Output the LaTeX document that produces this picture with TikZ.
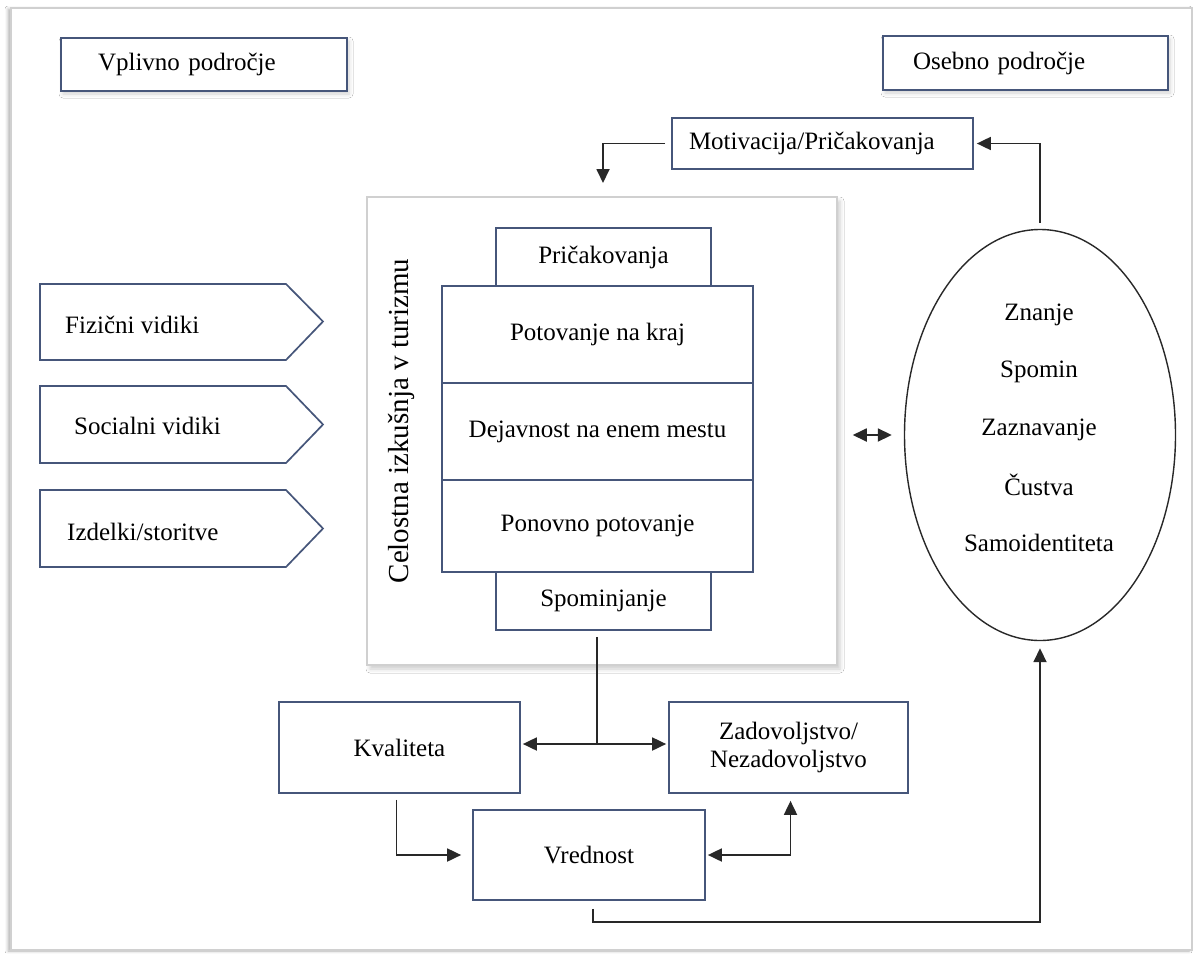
\documentclass[tikz,border=0pt]{standalone}
\usepackage{fontspec}
\setmainfont{Liberation Serif}
\usetikzlibrary{arrows.meta,shapes.geometric,shadows.blur,calc}
\definecolor{boxc}{RGB}{70,86,122}
\definecolor{linec}{RGB}{40,40,40}
\definecolor{framec}{RGB}{208,208,208}
\begin{document}
\begin{tikzpicture}[x=1pt,y=-1pt,
  font=\fontsize{25}{28}\selectfont,
  bx/.style={draw=boxc, line width=1.7pt, fill=white, inner sep=0pt, align=center},
  softshadow/.style={blur shadow={shadow xshift=2pt, shadow yshift=-3pt, shadow opacity=18, shadow blur radius=4pt}},
  conn/.style={draw=linec, line width=1.8pt},
  arr/.style={conn, -{Triangle[length=14pt,width=13pt]}},
  dblarr/.style={conn, {Triangle[length=14pt,width=13pt]}-{Triangle[length=14pt,width=13pt]}},
  txt/.style={inner sep=0pt},
  pent/.style={draw=boxc, line width=1.7pt, fill=white, line join=miter}
]
\useasboundingbox (0,0) rectangle (1196,953);
\fill[white] (0,0) rectangle (1196,953);

% outer frame
\node[draw=framec, line width=1.5pt, fill=white, minimum width=1181pt, minimum height=942pt, inner sep=0pt,
  blur shadow={shadow xshift=-3pt, shadow yshift=-1pt, shadow opacity=30, shadow blur radius=3pt}]
  (outer) at (601.5,479) {};

% domain boxes
\node[bx, softshadow, minimum height=53pt, text width=212pt, inner xsep=37pt, align=left] (vpl) at (204,64.5) {Vplivno področje};
\node[bx, softshadow, minimum height=54pt, text width=225pt, inner xsep=30pt, align=left] (oseb) at (1025.5,63) {Osebno področje};

% motivation box
\node[bx, minimum height=51pt, text width=267pt, inner xsep=17pt, align=left] (mot) at (822.5,143.5) {Motivacija/Pričakovanja};

% central frame
\node[draw=framec, line width=1.5pt, fill=white, minimum width=470pt, minimum height=468pt, inner sep=0pt,
  blur shadow={shadow xshift=3pt, shadow yshift=-4pt, shadow opacity=20, shadow blur radius=4pt}]
  (frame) at (602,431) {};
\node[txt, rotate=90, font=\fontsize{29}{34}\selectfont] (cel) at (401,421) {Celostna izkušnja v turizmu};

% stack
\node[bx, minimum width=215pt, minimum height=58pt] (pric) at (603.5,257) {Pričakovanja};
\node[bx, minimum width=311pt, minimum height=97pt] (pot) at (597.5,334.5) {Potovanje na kraj};
\node[bx, minimum width=311pt, minimum height=97pt] (dej) at (597.5,431.5) {\raisebox{4pt}{Dejavnost na enem mestu}};
\node[bx, minimum width=311pt, minimum height=92pt] (pon) at (597.5,526) {Ponovno potovanje};
\node[bx, minimum width=215pt, minimum height=58pt] (spom) at (603.5,601) {Spominjanje};

% pentagons
\draw[pent] (40,284) -- (286,284) -- (323,321.5) -- (286,360) -- (40,360) -- cycle;
\node[txt, anchor=west] (fiz) at (65,325) {Fizični vidiki};
\draw[pent] (40,386) -- (286,386) -- (323,424.5) -- (286,463) -- (40,463) -- cycle;
\node[txt, anchor=west] (soc) at (74,426) {Socialni vidiki};
\draw[pent] (40,490) -- (286,490) -- (323,528.5) -- (286,567) -- (40,567) -- cycle;
\node[txt, anchor=west] (izd) at (67,532) {Izdelki/storitve};

% ellipse
\node[ellipse, draw=linec, line width=1.4pt, fill=white, minimum width=271pt, minimum height=411pt, inner sep=0pt] (mind) at (1040,435) {};
\node[txt] (zn) at (1039,315) {Znanje};
\node[txt] (sp) at (1039,372) {Spomin};
\node[txt] (za) at (1039,430) {Zaznavanje};
\node[txt] (cu) at (1039,485) {Čustva};
\node[txt] (sa) at (1039,543) {Samoidentiteta};

% bottom boxes
\node[bx, minimum width=241pt, minimum height=91pt] (kval) at (399.5,747.5) {Kvaliteta};
\node[bx, minimum width=239pt, minimum height=91pt] (zad) at (788.5,747.5) {Zadovoljstvo/\\Nezadovoljstvo};
\node[bx, minimum width=232pt, minimum height=90pt] (vred) at (589,855) {Vrednost};

% coordinates
\coordinate (ftop) at (603,197);
\coordinate (jn) at (597,744);
\coordinate (bl) at (0,922);

% connectors
\draw[arr, shorten <=6pt, shorten >=14pt] (mot.west) -| (ftop);
\draw[arr, shorten <=6pt, shorten >=3pt] (mind.north) |- (mot.east);
\draw[dblarr, shorten <=15pt, shorten >=12pt] (frame.east |- mind.west) -- (mind.west);
\draw[conn, shorten <=6pt] (spom.south -| jn) -- (jn);
\draw[arr, shorten >=2pt] (jn) -- (jn -| kval.east);
\draw[arr, shorten >=2pt] (jn) -- (jn -| zad.west);
\draw[arr, shorten <=6pt, shorten >=11pt] ([xshift=-3pt]kval.south) |- (vred.west);
\draw[dblarr, shorten <=2pt, shorten >=7pt] (vred.east) -| ([xshift=2pt]zad.south);
\draw[arr, shorten <=8pt, shorten >=7pt] ([xshift=4pt]vred.south) -- ([xshift=4pt]vred.south |- bl) -| (mind.south);
\end{tikzpicture}
\end{document}
